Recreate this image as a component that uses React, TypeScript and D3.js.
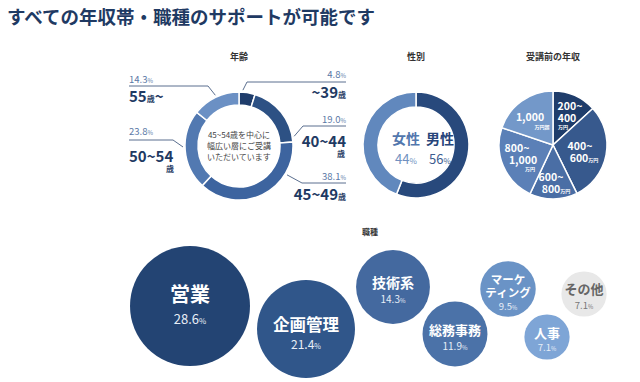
import React from "react";
import * as d3 from "d3";

const W = 640;
const H = 382;
const FONT = '"Noto Sans CJK JP", "Noto Sans", sans-serif';

// ---- data ----
const titleText = "すべての年収帯・職種のサポートが可能です";

const ageCategories = ["~39", "40~44", "45~49", "50~54", "55~"];
const ageValues = [4.8, 19.0, 38.1, 23.8, 14.3];
const ageCenterLines = ["45~54歳を中心に", "幅広い層にご受講", "いただいています"];

const genderCategories = ["男性", "女性"];
const genderValues = [56, 44];

const incomeCategories = ["200~400万円", "400~600万円", "600~800万円", "800~1,000万円", "1,000万円超"];
const incomeValues = [13.2, 29.5, 14.3, 23.2, 19.8];

const jobCategories = ["営業", "企画管理", "技術系", "総務事務", "マーケティング", "人事", "その他"];
const jobValues = [28.6, 21.4, 14.3, 11.9, 9.5, 7.1, 7.1];

// ---- styles ----
const NAVY = "#1f3a63";
const ageColors = ["#1f3d6b", "#2d5184", "#3d649f", "#5279b1", "#6b90c4"];
const genderColors = ["#28497c", "#6188bd"];
const incomeColors = ["#1f3d6b", "#37598d", "#4a6ea5", "#5b80b7", "#7398c9"];
const jobColors = ["#234473", "#30568a", "#44699f", "#4b72a8", "#6a93c6", "#7ea5d6", "#e8e8e8"];

function Pct({ x, y, v, anchor, color }: any) {
  return (
    <text x={x} y={y} textAnchor={anchor} fontFamily={FONT} fill={color} fontSize={9.5}>
      {v}
      <tspan fontSize={6}>%</tspan>
    </text>
  );
}

export default function App() {
  // ---- age donut ----
  const ageC = { x: 239, y: 146 };
  const ageR = 54, ageRi = 41;
  const pie = d3.pie<number>().sort(null).value((d) => d);
  const ageArcs = pie(ageValues);
  const ageArc = d3.arc<any>().innerRadius(ageRi).outerRadius(ageR);
  const ptAt = (c: any, deg: number, r: number) => {
    const a = (deg * Math.PI) / 180;
    return [c.x + r * Math.sin(a), c.y - r * Math.cos(a)];
  };

  const RX = 346, LX = 129;
  const ageLayout = [
    { side: "r", py: 78, ly: 82, x0: 247, ang: 4, by: 98 },
    { side: "r", py: 123, ly: 126, x0: 303, ang: 80, by: 147 },
    { side: "r", py: 180, ly: 183, x0: 302, ang: 121, by: 200 },
    { side: "l", py: 135, ly: 140, x0: 173, ang: 269, by: 162 },
    { side: "l", py: 83, ly: 86, x0: 208, ang: 335, by: 102 },
  ];

  // ---- gender ----
  const gC = { x: 416, y: 145 };
  const gArcs = pie(genderValues);
  const gArc = d3.arc<any>().innerRadius(38).outerRadius(53);

  // ---- income ----
  const iC = { x: 553, y: 145 };
  const iArcs = pie(incomeValues);
  const iArc = d3.arc<any>().innerRadius(0).outerRadius(54);

  // ---- jobs ----
  const rScale = d3.scalePow().exponent(0.7).domain([0, d3.max(jobValues) as number]).range([0, 60]);
  const jobPos = [
    { x: 190, y: 306 },
    { x: 306, y: 329 },
    { x: 393, y: 287 },
    { x: 455, y: 334 },
    { x: 508, y: 289 },
    { x: 547, y: 337 },
    { x: 584, y: 294 },
  ];
  const jobText = [
    { lines: ["営業"], fs: 20, pfs: 13, dy: [-4], pdy: 18 },
    { lines: ["企画管理"], fs: 16.5, pfs: 12, dy: [2], pdy: 20 },
    { lines: ["技術系"], fs: 14, pfs: 10, dy: [1], pdy: 16 },
    { lines: ["総務事務"], fs: 13, pfs: 10, dy: [1], pdy: 16 },
    { lines: ["マーケ", "ティング"], fs: 11.5, pfs: 9.5, dy: [-5, 8], pdy: 21 },
    { lines: ["人事"], fs: 13, pfs: 9.5, dy: [1], pdy: 14 },
    { lines: ["その他"], fs: 13, pfs: 9.5, dy: [0], pdy: 15 },
  ];

  const pl = { fontFamily: FONT, fontWeight: 700, fill: "#fff", textAnchor: "middle" } as any;

  return (
    <svg width={W} height={H} style={{ position: "absolute", left: 0, top: 0, background: "#fff" }}>
      <rect width={W} height={H} fill="#fff" />
      <text x={7} y={24} fontFamily={FONT} fontWeight={700} fontSize={18.5} fill={NAVY}>
        {titleText}
      </text>

      {/* ===== Age ===== */}
      <text x={ageC.x} y={60} textAnchor="middle" fontFamily={FONT} fontWeight={700} fontSize={9} fill="#333">
        年齢
      </text>
      <g transform={`translate(${ageC.x},${ageC.y})`}>
        {ageArcs.map((a, i) => (
          <path key={i} d={ageArc(a) as string} fill={ageColors[i]} stroke="#fff" strokeWidth={1.5} />
        ))}
      </g>
      {ageCenterLines.map((l, i) => (
        <text key={i} x={ageC.x} y={138 + i * 11} textAnchor="middle" fontFamily={FONT} fontSize={8} fill="#444">
          {l}
        </text>
      ))}
      {ageLayout.map((L, i) => {
        const isR = L.side === "r";
        const lx1 = isR ? RX : LX;
        const [ex, ey] = ptAt(ageC, L.ang, ageR + 2);
        return (
          <g key={i}>
            <Pct x={isR ? RX : LX} y={L.py} v={ageValues[i].toFixed(1)} anchor={isR ? "end" : "start"} color="#5b78a6" />
            <polyline
              points={`${lx1},${L.ly} ${L.x0},${L.ly} ${ex},${ey}`}
              fill="none"
              stroke="#5b6f8f"
              strokeWidth={1}
            />
          </g>
        );
      })}
      <text x={RX} y={ageLayout[0].by} textAnchor="end" fontFamily={FONT} fontWeight={700} fill={NAVY} fontSize={15}>
        {ageCategories[0]}
        <tspan fontSize={8}>歳</tspan>
      </text>
      <text x={RX} y={ageLayout[1].by} textAnchor="end" fontFamily={FONT} fontWeight={700} fill={NAVY} fontSize={15}>
        {ageCategories[1]}
      </text>
      <text x={RX - 1} y={ageLayout[1].by + 10} textAnchor="end" fontFamily={FONT} fontWeight={700} fill={NAVY} fontSize={8}>
        歳
      </text>
      <text x={RX} y={ageLayout[2].by} textAnchor="end" fontFamily={FONT} fontWeight={700} fill={NAVY} fontSize={15}>
        {ageCategories[2]}
        <tspan fontSize={8}>歳</tspan>
      </text>
      <text x={LX} y={ageLayout[3].by} textAnchor="start" fontFamily={FONT} fontWeight={700} fill={NAVY} fontSize={15}>
        {ageCategories[3]}
      </text>
      <text x={174} y={ageLayout[3].by + 10} textAnchor="end" fontFamily={FONT} fontWeight={700} fill={NAVY} fontSize={8}>
        歳
      </text>
      <text x={LX} y={ageLayout[4].by} textAnchor="start" fontFamily={FONT} fontWeight={700} fill={NAVY} fontSize={15}>
        {ageCategories[4].replace("~", "")}
        <tspan fontSize={8}>歳</tspan>
        <tspan>~</tspan>
      </text>

      {/* ===== Gender ===== */}
      <text x={gC.x} y={60} textAnchor="middle" fontFamily={FONT} fontWeight={700} fontSize={9} fill="#333">
        性別
      </text>
      <g transform={`translate(${gC.x},${gC.y})`}>
        {gArcs.map((a, i) => (
          <path key={i} d={gArc(a) as string} fill={genderColors[i]} stroke="#fff" strokeWidth={1.5} />
        ))}
      </g>
      <text x={gC.x - 10} y={144} textAnchor="middle" fontFamily={FONT} fontWeight={700} fontSize={14} fill="#5277ad">
        {genderCategories[1]}
      </text>
      <text x={gC.x + 24} y={144} textAnchor="middle" fontFamily={FONT} fontWeight={700} fontSize={14} fill="#27457a">
        {genderCategories[0]}
      </text>
      <text x={gC.x - 10} y={164} textAnchor="middle" fontFamily={FONT} fontSize={13} fill="#7090c0">
        {genderValues[1]}
        <tspan fontSize={8}>%</tspan>
      </text>
      <text x={gC.x + 24} y={164} textAnchor="middle" fontFamily={FONT} fontSize={13} fill="#3c5c8f">
        {genderValues[0]}
        <tspan fontSize={8}>%</tspan>
      </text>

      {/* ===== Income ===== */}
      <text x={iC.x} y={60} textAnchor="middle" fontFamily={FONT} fontWeight={700} fontSize={9} fill="#333">
        受講前の年収
      </text>
      <g transform={`translate(${iC.x},${iC.y})`}>
        {iArcs.map((a, i) => (
          <path key={i} d={iArc(a) as string} fill={incomeColors[i]} stroke="#fff" strokeWidth={1.5} />
        ))}
      </g>
      <g>
        <text {...pl} x={570} y={110} fontSize={10.5}>200~</text>
        <text {...pl} x={567} y={122} fontSize={10.5}>400</text>
        <text {...pl} x={563} y={129} fontSize={5}>万円</text>

        <text {...pl} x={580} y={150} fontSize={10.5}>400~</text>
        <text {...pl} x={584} y={162} fontSize={10.5}>
          600<tspan fontSize={5}>万円</tspan>
        </text>

        <text {...pl} x={551} y={181} fontSize={10.5}>600~</text>
        <text {...pl} x={556} y={193} fontSize={10.5}>
          800<tspan fontSize={5}>万円</tspan>
        </text>

        <text {...pl} x={517} y={152} fontSize={10.5}>800~</text>
        <text {...pl} x={523} y={164} fontSize={10.5}>1,000</text>
        <text {...pl} x={530} y={171} fontSize={5}>万円</text>

        <text {...pl} x={530} y={121} fontSize={10.5}>1,000</text>
        <text {...pl} x={542} y={129} fontSize={5}>万円超</text>
      </g>

      {/* ===== Jobs ===== */}
      <text x={370} y={235} textAnchor="middle" fontFamily={FONT} fontWeight={700} fontSize={8} fill="#333">
        職種
      </text>
      {jobValues.map((v, i) => {
        const p = jobPos[i];
        const t = jobText[i];
        const other = i === jobValues.length - 1;
        const tc = other ? "#666" : "#fff";
        return (
          <g key={i}>
            <circle cx={p.x} cy={p.y} r={rScale(v)} fill={jobColors[i]} />
            {t.lines.map((l, j) => (
              <text
                key={j}
                x={p.x}
                y={p.y + t.dy[j]}
                textAnchor="middle"
                fontFamily={FONT}
                fontWeight={700}
                fontSize={t.fs}
                fill={tc}
              >
                {l}
              </text>
            ))}
            <text x={p.x} y={p.y + t.pdy} textAnchor="middle" fontFamily={FONT} fontSize={t.pfs} fill={other ? "#777" : "#e8eef7"}>
              {v.toFixed(1)}
              <tspan fontSize={t.pfs * 0.6}>%</tspan>
            </text>
          </g>
        );
      })}
    </svg>
  );
}
